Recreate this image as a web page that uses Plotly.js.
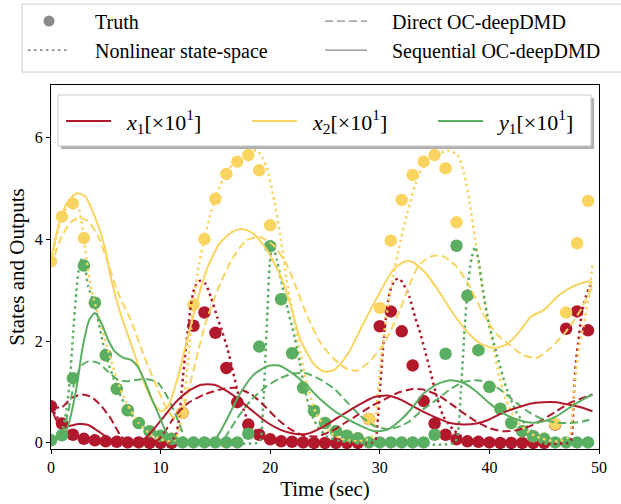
<!DOCTYPE html>
<html>
<head>
<meta charset="utf-8">
<script src="https://cdn.plot.ly/plotly-3.0.1.min.js"></script>
<style>html,body{margin:0;padding:0;background:#fff;}</style>
</head>
<body>
<div id="chart" style="width:621px;height:504px;"></div>
<script>
// ---------- Truth samples (t = 0..49 s) ----------
const truthT = [0,1,2,3,4,5,6,7,8,9,10,11,12,13,14,15,16,17,18,19,20,21,22,23,24,25,26,27,28,29,30,31,32,33,34,35,36,37,38,39,40,41,42,43,44,45,46,47,48,49];
const truthX1 = [0.72,0.38,0.16,0.08,0.05,0.03,0.02,0.01,0.01,0.0,0.0,0.0,0.59,2.30,2.56,2.16,1.47,0.80,0.36,0.16,0.07,0.03,0.02,0.01,0.0,0.0,0.0,0.0,0.0,0.47,2.29,2.58,2.19,1.52,0.82,0.38,0.16,0.07,0.03,0.02,0.01,0.0,0.0,0.0,0.0,0.0,0.36,2.24,2.58,2.21];
const truthX2 = [3.56,4.44,4.70,4.02,2.75,1.72,1.06,0.64,0.39,0.23,0.14,0.08,0.59,2.71,4.00,4.79,5.28,5.52,5.65,5.35,4.27,2.82,1.76,1.08,0.63,0.39,0.23,0.14,0.09,0.47,2.65,3.97,4.77,5.26,5.52,5.65,5.39,4.33,2.89,1.82,1.10,0.67,0.39,0.23,0.13,0.08,0.37,2.56,3.92,4.75];
const truthY1 = [0.05,0.15,1.27,3.48,2.75,1.72,1.06,0.64,0.39,0.23,0.14,0.08,0.01,0.01,0.01,0.01,0.01,0.01,0.18,1.89,3.86,2.82,1.76,1.08,0.63,0.39,0.23,0.14,0.09,0.01,0.01,0.01,0.01,0.01,0.01,0.16,1.75,3.87,2.89,1.82,1.10,0.67,0.39,0.23,0.13,0.08,0.01,0.01,0.01,0.01];

// ---------- Nonlinear state-space (dotted) ----------
const nlX1T = [0,0.5,1.0,1.5,2.0,3.0,4.0,5.0,6.5,10.5,11.0,11.4,11.7,12.0,12.3,12.7,13.1,13.6,14.1,14.6,15.2,15.6,16.1,16.5,17.1,17.8,18.4,19.2,20.0,21.0,22.5,29.3,29.6,29.8,30.0,30.2,30.5,30.9,31.4,31.8,32.2,32.7,33.2,33.6,34.1,34.5,35.2,35.8,36.7,37.6,38.5,40.0,47.2,47.45,47.7,47.9,48.1,48.4,48.8,49.1,49.4];
const nlX1V = [0.72,0.52,0.38,0.26,0.17,0.08,0.04,0.02,0.0,0.0,0.03,0.15,0.5,1.2,1.85,2.6,3.05,3.18,3.12,2.85,2.45,2.2,1.85,1.5,0.95,0.52,0.3,0.14,0.07,0.03,0.0,0.0,0.05,0.4,1.0,1.6,2.35,2.95,3.2,3.22,3.1,2.87,2.48,2.22,1.83,1.5,0.91,0.52,0.26,0.1,0.04,0.01,0.0,0.05,0.91,1.6,1.96,2.5,2.87,3.05,3.17];
const nlX2T = [0,0.5,1.0,1.6,2.2,2.6,2.9,3.25,3.7,4.5,5.2,6.0,6.9,8.0,9.2,10.2,11.2,11.6,12.0,12.5,13.0,13.5,14.0,14.5,15.1,16.0,17.1,18.1,18.8,19.3,19.7,20.3,20.9,21.5,22.1,22.7,23.3,24.2,25.4,26.5,28.0,29.2,29.6,30.0,30.6,31.2,31.8,32.5,33.6,34.8,36.2,37.1,37.7,38.2,38.7,39.2,39.7,40.3,40.9,41.5,42.4,43.5,44.7,46.3,47.3,47.6,47.9,48.2,48.7,49.1,49.4];
const nlX2V = [3.53,4.05,4.44,4.68,4.74,4.55,4.18,3.59,3.0,2.35,1.83,1.25,0.78,0.39,0.15,0.06,0.03,0.2,0.6,1.6,2.7,3.5,4.0,4.45,4.88,5.3,5.6,5.72,5.74,5.6,5.4,4.84,4.1,3.2,2.5,1.8,1.2,0.57,0.22,0.08,0.03,0.1,0.45,1.4,2.48,3.27,3.88,4.5,5.29,5.59,5.74,5.65,5.29,4.71,3.99,3.25,2.6,1.95,1.3,0.85,0.45,0.22,0.09,0.03,0.13,0.72,1.37,1.89,2.42,2.94,3.5];
const nlY1T = [0,0.8,1.3,1.7,2.0,2.3,2.6,2.85,3.1,3.4,4.0,5.0,6.0,7.0,8.0,9.0,10.0,11.0,12.0,18.8,19.1,19.35,19.55,19.75,19.95,20.2,20.6,21.0,21.4,22.2,22.7,23.1,23.7,24.3,25.2,26.5,36.8,37.1,37.4,37.7,38.0,38.35,38.7,39.0,39.4,40.0,40.6,41.5,42.5,43.7,44.9,46.0,49.4];
const nlY1V = [0.05,0.15,0.5,1.18,2.09,2.94,3.5,3.62,3.45,3.07,2.7,1.72,1.1,0.65,0.39,0.23,0.12,0.05,0.01,0.0,0.05,0.7,1.6,2.6,3.5,3.88,3.6,3.2,2.8,2.1,1.57,1.1,0.6,0.33,0.12,0.03,0.0,0.15,1.0,2.1,3.0,3.6,3.85,3.6,3.0,2.3,1.8,1.11,0.59,0.26,0.1,0.03,0.0];

// ---------- Direct OC-deepDMD (dashed) ----------
const dirX1T = [0,0.94,1.85,2.8,3.7,4.6,5.5,6.3,7.0,9.4,10.1,11.3,12.5,14.0,15.5,16.8,18.3,19.5,20.7,21.9,23.1,24.3,25.6,26.8,28.0,29.2,30.4,31.6,33.0,33.9,35.2,36.4,37.6,38.8,40.0,41.2,42.5,43.7,44.9,46.1,47.3,48.5,49.4];
const dirX1V = [0.72,0.69,0.88,0.95,0.90,0.72,0.46,0.16,0.01,0.0,0.13,0.52,0.78,0.95,1.05,1.08,0.95,0.72,0.46,0.26,0.14,0.13,0.23,0.39,0.55,0.72,0.85,0.98,1.06,1.05,0.95,0.78,0.59,0.42,0.29,0.23,0.25,0.33,0.46,0.62,0.78,0.88,0.95];
const dirX2T = [0,0.97,1.9,2.6,3.4,4.3,5.2,6.1,7.3,8.5,9.75,10.7,11.3,11.9,12.5,13.2,14.1,15.3,16.5,17.8,19.0,20.3,21.5,22.1,23.4,24.6,25.9,27.1,28.0,29.2,30.4,31.6,32.7,33.6,34.8,35.8,37.0,38.2,39.4,40.6,41.8,43.1,44.3,45.5,47.0,48.3,49.4];
const dirX2V = [3.46,4.05,4.35,4.41,4.35,4.05,3.53,2.95,2.4,1.7,1.05,0.62,0.48,0.6,1.0,1.6,2.35,3.05,3.6,3.97,4.04,3.88,3.5,3.2,2.48,1.96,1.63,1.44,1.42,1.63,1.96,2.48,3.1,3.5,3.67,3.66,3.46,3.07,2.55,2.15,1.93,1.72,1.67,1.85,2.19,2.6,3.07];
const dirY1T = [0,1.0,1.55,2.2,2.8,3.4,4.3,5.2,6.1,7.0,7.9,8.8,9.75,10.5,11.3,11.9,12.3,15.5,16.3,17.2,18.3,19.6,20.8,22.0,23.2,24.6,25.9,27.1,28.3,29.5,30.7,31.9,32.7,33.9,35.2,36.4,37.6,38.8,40.0,41.2,42.5,43.7,44.9,46.1,47.3,48.5,49.4];
const dirY1V = [0.05,0.2,0.59,1.24,1.52,1.60,1.57,1.40,1.24,1.21,1.24,1.25,1.18,0.95,0.59,0.26,0.02,0.0,0.25,0.55,0.85,1.1,1.26,1.36,1.37,1.24,1.05,0.78,0.52,0.33,0.27,0.33,0.42,0.65,0.85,1.05,1.19,1.23,1.18,1.01,0.78,0.59,0.46,0.40,0.39,0.42,0.47];

// ---------- Sequential OC-deepDMD (solid) ----------
const seqX1T = [0,0.64,1.55,2.5,3.4,4.3,5.2,6.1,7.0,8.0,8.8,10.1,11.3,12.5,13.7,14.9,16.1,17.3,18.6,19.8,21.0,22.2,23.4,24.6,25.9,27.1,28.3,29.5,30.7,31.9,33.0,33.9,35.2,36.4,37.6,38.8,40.0,41.2,42.5,43.7,44.9,46.1,47.3,48.5,49.4];
const seqX1V = [0.72,0.39,0.33,0.37,0.35,0.23,0.10,0.01,0.0,0.02,0.13,0.46,0.78,1.01,1.14,1.14,1.01,0.82,0.59,0.39,0.25,0.18,0.18,0.29,0.46,0.62,0.77,0.90,0.93,0.85,0.72,0.62,0.49,0.39,0.36,0.38,0.46,0.59,0.69,0.77,0.80,0.80,0.75,0.69,0.62];
const seqX2T = [0,0.67,1.43,2.34,3.1,4.0,4.9,5.5,6.4,7.6,8.5,9.45,10.05,10.7,11.6,12.5,13.3,14.2,15.4,16.6,17.4,18.4,19.7,20.9,21.8,22.8,24.0,24.9,25.9,27.1,28.4,29.5,30.5,31.3,32.3,33.0,34.2,35.5,36.6,37.9,39.1,40.4,41.6,42.8,43.8,44.9,46.4,47.9,49.1,49.4];
const seqX2V = [3.6,4.25,4.70,4.90,4.84,4.44,3.85,3.2,2.5,1.76,1.18,0.75,0.62,0.72,1.31,2.09,2.75,3.40,3.92,4.15,4.20,4.12,3.79,3.3,2.75,2.0,1.54,1.40,1.44,1.75,2.3,2.75,3.15,3.42,3.56,3.55,3.33,2.94,2.57,2.2,1.96,1.86,1.94,2.2,2.48,2.6,2.91,3.10,3.17,3.14];
const seqY1T = [0,1.0,1.55,2.3,2.9,3.5,4.0,4.6,5.2,5.8,6.6,7.3,7.9,8.5,9.1,9.75,10.4,11.0,11.4,14.7,15.8,17.2,18.5,19.8,20.8,22.2,23.4,24.6,25.9,27.1,28.3,29.5,30.7,31.9,33.0,33.9,35.2,36.4,37.6,38.8,40.0,41.2,42.5,43.7,44.9,46.1,47.3,48.5,49.4];
const seqY1V = [0.05,0.1,0.33,1.05,1.89,2.42,2.55,2.35,2.03,1.80,1.67,1.63,1.50,1.24,0.91,0.59,0.26,0.06,0.0,0.0,0.36,0.95,1.34,1.51,1.52,1.34,1.11,0.85,0.62,0.46,0.33,0.23,0.26,0.45,0.7,0.95,1.15,1.23,1.18,1.01,0.78,0.59,0.46,0.40,0.42,0.52,0.69,0.85,0.95];

// ---------- labels ----------
const methodNames = ['Truth', 'Direct OC-deepDMD', 'Nonlinear state-space', 'Sequential OC-deepDMD'];
const varNames = ['<i>x</i><sub>1</sub>[×10<sup>1</sup>]', '<i>x</i><sub>2</sub>[×10<sup>1</sup>]', '<i>y</i><sub>1</sub>[×10<sup>1</sup>]'];
const xTicks = [0, 10, 20, 30, 40, 50];
const yTicks = [0, 2, 4, 6];

const RED = '#b2182b', YEL = '#f9d460', GRN = '#5aae61', GRAY = '#8a8a8a';
const DOT = '2.5px,3.5px', DASH = '8px,4px';
const PAD4 = '\u00a0\u00a0\u00a0\u00a0', PAD2 = '\u00a0\u00a0';

const traces = [];
// truth dots (bottom layer)
[[truthX1, RED], [truthX2, YEL], [truthY1, GRN]].forEach(([v, c]) => {
  traces.push({x: truthT, y: v, type: 'scatter', mode: 'markers', showlegend: false,
    marker: {color: c, size: 12.5, line: {width: 0}}, hoverinfo: 'skip'});
});
// model lines
const lines = [
  [nlX1T, nlX1V, RED, DOT, 2.5], [nlX2T, nlX2V, YEL, DOT, 2.5], [nlY1T, nlY1V, GRN, DOT, 2.5],
  [dirX1T, dirX1V, RED, DASH, 2], [dirX2T, dirX2V, YEL, DASH, 2], [dirY1T, dirY1V, GRN, DASH, 2],
  [seqX1T, seqX1V, RED, 'solid', 2], [seqX2T, seqX2V, YEL, 'solid', 2], [seqY1T, seqY1V, GRN, 'solid', 2]
];
lines.forEach(([t, v, c, d, w]) => {
  traces.push({x: t, y: v, type: 'scatter', mode: 'lines', showlegend: false,
    line: {color: c, dash: d, width: w, shape: 'spline', smoothing: 0.6}, hoverinfo: 'skip'});
});
// legend 1 (method styles), row-major order
traces.push({x: [null], y: [null], type: 'scatter', mode: 'markers', name: PAD4 + methodNames[0],
  marker: {color: GRAY, size: 11}, legend: 'legend', legendwidth: 240});
traces.push({x: [null], y: [null], type: 'scatter', mode: 'lines', name: PAD4 + methodNames[1],
  line: {color: GRAY, dash: DASH, width: 1.3}, legend: 'legend', legendwidth: 240});
traces.push({x: [null], y: [null], type: 'scatter', mode: 'lines', name: PAD4 + methodNames[2],
  line: {color: GRAY, dash: DOT, width: 1.8}, legend: 'legend', legendwidth: 240});
traces.push({x: [null], y: [null], type: 'scatter', mode: 'lines', name: PAD4 + methodNames[3],
  line: {color: GRAY, width: 1.3}, legend: 'legend', legendwidth: 240});
// legend 2 (variables)
[[RED, 126], [YEL, 126], [GRN, 100]].forEach(([c, lw], i) => {
  traces.push({x: [null], y: [null], type: 'scatter', mode: 'lines', name: PAD2 + varNames[i],
    line: {color: c, width: 2}, legend: 'legend2', legendwidth: lw});
});

const W = 548, H = 364.5, B = 449.5, L = 51;
const px = p => (p - L) / W, py = p => (B - p) / H;

const layout = {
  width: 621, height: 504,
  margin: {l: 51, r: 22, t: 85, b: 54.5, autoexpand: false},
  paper_bgcolor: '#ffffff', plot_bgcolor: '#ffffff',
  font: {family: 'Liberation Serif, Times New Roman, serif', color: '#000'},
  xaxis: {range: [0, 50], tickvals: xTicks, ticktext: xTicks.map(String), ticks: 'outside', ticklen: 4,
    tickwidth: 1, tickcolor: '#000', showline: true, linecolor: '#000', linewidth: 1, mirror: true,
    showgrid: false, zeroline: false, tickfont: {size: 16},
    title: {text: 'Time (sec)', font: {size: 21}, standoff: 6}},
  yaxis: {range: [-0.12, 7.025], tickvals: yTicks, ticktext: yTicks.map(String), ticks: 'outside', ticklen: 4,
    tickwidth: 1, tickcolor: '#000', showline: true, linecolor: '#000', linewidth: 1, mirror: true,
    showgrid: false, zeroline: false, tickfont: {size: 16},
    title: {text: 'States and Outputs', font: {size: 21}, standoff: 4}},
  showlegend: true,
  legend: {orientation: 'h', x: px(23), xanchor: 'left', y: py(1.5), yanchor: 'top',
    bgcolor: 'rgba(0,0,0,0)', borderwidth: 0, font: {size: 20}, itemwidth: 42, traceorder: 'normal'},
  legend2: {orientation: 'h', x: px(61), xanchor: 'left', y: py(100.2), yanchor: 'top',
    bgcolor: 'rgba(0,0,0,0)', borderwidth: 0, font: {size: 22}, itemwidth: 45, traceorder: 'normal'},
  shapes: [
    {type: 'rect', xref: 'paper', yref: 'paper', x0: px(22), x1: px(626), y0: py(72), y1: py(4),
      line: {color: '#cccccc', width: 1}, fillcolor: 'rgba(255,255,255,0.85)', layer: 'above'},
    {type: 'rect', xref: 'paper', yref: 'paper', x0: px(61), x1: px(594), y0: py(149), y1: py(98),
      line: {width: 0}, fillcolor: '#b0b0b0', layer: 'above'},
    {type: 'rect', xref: 'paper', yref: 'paper', x0: px(58), x1: px(591), y0: py(146), y1: py(95),
      line: {color: '#cccccc', width: 1}, fillcolor: '#ffffff', layer: 'above'}
  ]
};

Plotly.newPlot('chart', traces, layout, {displayModeBar: false, staticPlot: true});
</script>
</body>
</html>
